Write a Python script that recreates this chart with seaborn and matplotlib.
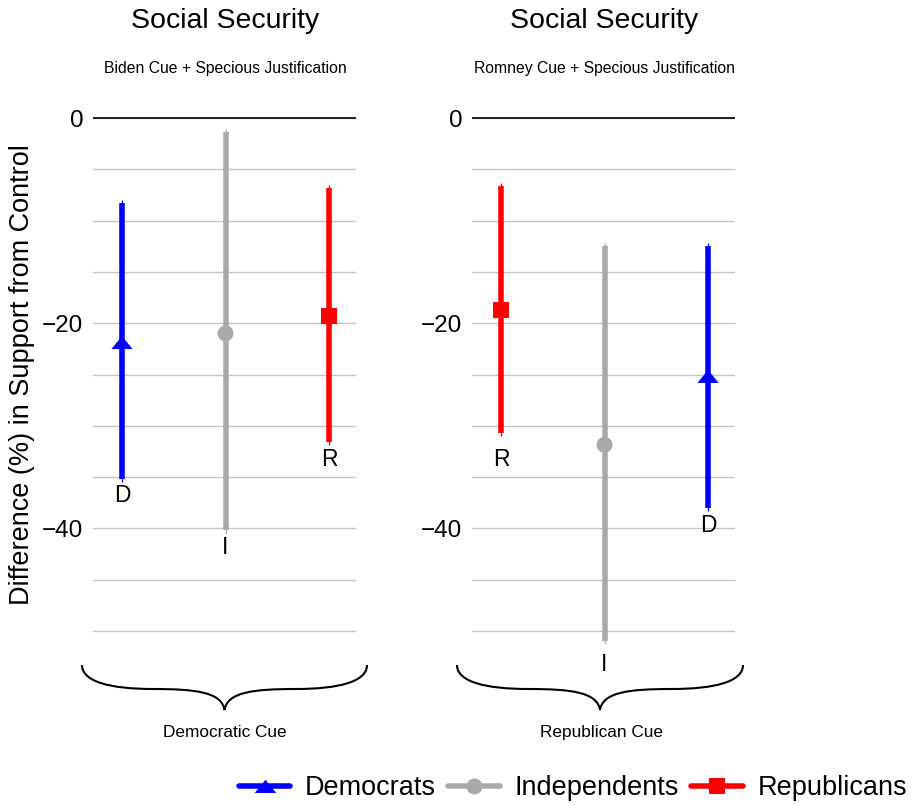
import matplotlib
matplotlib.use('Agg')
import matplotlib.pyplot as plt
import seaborn as sns
import pandas as pd
from matplotlib.lines import Line2D
from matplotlib.path import Path
from matplotlib.patches import PathPatch
from matplotlib.markers import MarkerStyle
from matplotlib.ticker import MultipleLocator

sns.set_theme(style='white')
plt.rcParams['font.family'] = ['Liberation Sans', 'DejaVu Sans']
plt.rcParams['axes.unicode_minus'] = True
for k in ['text.color', 'axes.labelcolor', 'xtick.color', 'ytick.color']:
    plt.rcParams[k] = 'black'

# ---------------- data ----------------
groups = ['Democrats', 'Independents', 'Republicans']
letters = ['D', 'I', 'R']
group_colors = ['#0000FF', '#A9A9A9', '#FF0000']

panel_titles = ['Social Security', 'Social Security']
panel_subtitles = ['Biden Cue + Specious Justification',
                   'Romney Cue + Specious Justification']
cue_labels = ['Democratic Cue', 'Republican Cue']
y_ticks = [-40, -20, 0]

# Democratic cue panel (left), order: D, I, R
left_order = ['Democrats', 'Independents', 'Republicans']
left_est = [-21.9, -21.0, -19.3]
left_lo90 = [-35.2, -40.2, -31.6]
left_hi90 = [-8.3, -1.4, -6.8]
left_lo95 = [-35.5, -40.5, -31.9]
left_hi95 = [-8.0, -1.1, -6.5]
left_label_y = [-36.8, -41.9, -33.3]

# Republican cue panel (right), order: R, I, D
right_order = ['Republicans', 'Independents', 'Democrats']
right_est = [-18.7, -31.85, -25.2]
right_lo90 = [-30.7, -51.0, -38.0]
right_hi90 = [-6.6, -12.5, -12.5]
right_lo95 = [-31.0, -51.3, -38.3]
right_hi95 = [-6.3, -12.2, -12.2]
right_label_y = [-33.3, -53.3, -39.7]

# ---------------- styles ----------------
tri_verts = [(-1.0, -0.6), (1.0, -0.6), (0.0, 0.62), (-1.0, -0.6)]
marker_map = {'Democrats': MarkerStyle(tri_verts), 'Independents': 'o', 'Republicans': 's'}
size_map = {'Democrats': 235, 'Independents': 132, 'Republicans': 128}
legend_ms = {'Democrats': 15.5, 'Independents': 11.5, 'Republicans': 11.3}
color_map = dict(zip(groups, group_colors))
letter_map = dict(zip(groups, letters))

W, H = 911, 805
fig = plt.figure(figsize=(W / 100, H / 100), dpi=100)
fig.patch.set_facecolor('white')

ax_bottom = 0.17789
ax_height = 0.68827
ax_w = 263 / W
axL = fig.add_axes([93 / W, ax_bottom, ax_w, ax_height])
axR = fig.add_axes([472 / W, ax_bottom, ax_w, ax_height])

panels = [
    (axL, left_order, left_est, left_lo90, left_hi90, left_lo95, left_hi95, left_label_y),
    (axR, right_order, right_est, right_lo90, right_hi90, right_lo95, right_hi95, right_label_y),
]

for i, (ax, order, est, lo90, hi90, lo95, hi95, laby) in enumerate(panels):
    df = pd.DataFrame({'group': order, 'pos': range(len(order)), 'est': est,
                       'lo90': lo90, 'hi90': hi90, 'lo95': lo95, 'hi95': hi95,
                       'laby': laby})
    ax.set_facecolor('white')
    for _, r in df.iterrows():
        c = color_map[r['group']]
        ax.vlines(r['pos'], r['lo95'], r['hi95'], color=c, lw=0.9, zorder=2)
        ax.vlines(r['pos'], r['lo90'], r['hi90'], color=c, lw=4.0, zorder=2.1)
        sub = df[df['group'] == r['group']]
        sns.scatterplot(data=sub, x='pos', y='est', color=c,
                        marker=marker_map[r['group']], s=size_map[r['group']],
                        linewidth=0, edgecolor='none', legend=False, ax=ax, zorder=3)
        ax.text(r['pos'], r['laby'], letter_map[r['group']], ha='center', va='center',
                fontsize=16.5, color='black', clip_on=False)
    ax.set_xlim(-0.28, 2.26)
    ax.set_ylim(-53, 1)
    ax.set_yticks(y_ticks)
    ax.yaxis.set_minor_locator(MultipleLocator(5))
    ax.grid(which='both', axis='y', color='#c4c4c4', lw=1.0, zorder=0)
    ax.grid(which='both', axis='x', visible=False)
    ax.axhline(0, color='black', lw=1.2, zorder=1)
    ax.set_xticks([])
    ax.set_xlabel('')
    ax.set_ylabel('')
    ax.tick_params(axis='y', which='both', length=0, pad=7, labelsize=17.5, colors='black')
    for s in ax.spines.values():
        s.set_visible(False)
    ax.set_axisbelow(True)

    pos = ax.get_position()
    xc = pos.x0 + pos.width * (1 + 0.28) / 2.54
    fig.text(xc, 1 - 21 / H, panel_titles[i], ha='center', va='center', fontsize=20.5)
    fig.text(xc, 1 - 68 / H, panel_subtitles[i], ha='center', va='center', fontsize=11.3)

fig.text(22 / W, 1 - 375 / H, 'Difference (%) in Support from Control', rotation=90,
         ha='center', va='center', fontsize=19.5)

# ---------------- braces ----------------
ov = fig.add_axes([0, 0, 1, 1], zorder=-1)
ov.set_xlim(0, W)
ov.set_ylim(H, 0)
ov.axis('off')
ov.patch.set_alpha(0)


def brace(x0, x1, ytop, ymid, ytip):
    xm = (x0 + x1) / 2
    dx = xm - x0
    verts = [
        (x0, ytop),
        (x0, ytop + 0.7 * (ymid - ytop)), (x0 + 0.2 * dx, ymid), (x0 + 0.5 * dx, ymid),
        (x0 + 0.8 * dx, ymid), (xm - 0.02 * dx, ymid + 0.15 * (ytip - ymid)), (xm, ytip),
        (xm + 0.02 * dx, ymid + 0.15 * (ytip - ymid)), (xm + 0.2 * dx, ymid), (xm + 0.5 * dx, ymid),
        (x1 - 0.2 * dx, ymid), (x1, ytop + 0.7 * (ymid - ytop)), (x1, ytop),
    ]
    codes = [Path.MOVETO] + [Path.CURVE4] * 12
    ov.add_patch(PathPatch(Path(verts, codes), fill=False, lw=1.5, edgecolor='black'))


brace(82, 367, 665, 689, 710)
brace(457, 743, 665, 689, 710)
fig.text(225 / W, 1 - 732 / H, cue_labels[0], ha='center', va='center', fontsize=12.4)
fig.text(601 / W, 1 - 732 / H, cue_labels[1], ha='center', va='center', fontsize=12.4)

# ---------------- legend ----------------
handles = [Line2D([0], [0], color=color_map[g], lw=4.0, marker=marker_map[g],
                  markersize=legend_ms[g], markeredgewidth=0) for g in groups]
fig.legend(handles, groups, loc='center', bbox_to_anchor=(573 / W, 1 - 788 / H), ncol=3,
           frameon=False, fontsize=19.5, handlelength=1.9, handletextpad=0.55,
           columnspacing=0.45, borderaxespad=0, borderpad=0)

fig.savefig('out.png', dpi=100, facecolor='white')
